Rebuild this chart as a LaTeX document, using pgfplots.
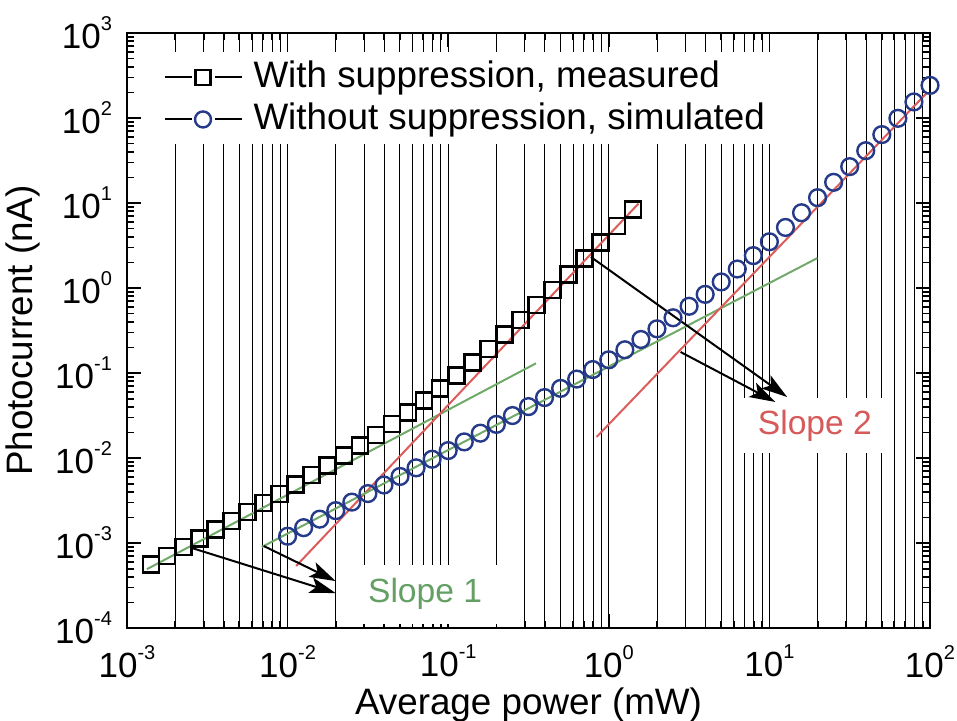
\documentclass[border=0pt]{standalone}
\usepackage{fontspec}
\setmainfont{Liberation Sans}
\usepackage{pgfplots}
\pgfplotsset{compat=1.18}
\usetikzlibrary{arrows.meta}
\definecolor{fitred}{RGB}{220,92,92}
\definecolor{fitgreen}{RGB}{112,170,104}
\definecolor{circblue}{RGB}{38,58,138}
\definecolor{txtgreen}{RGB}{100,160,100}
\definecolor{txtred}{RGB}{214,90,90}
\newcommand{\tl}[1]{10\raisebox{9pt}{\fontsize{10}{12}\selectfont #1}}

\pgfplotstableread{
x y
1.413e-3 5.59e-4
1.778e-3 7.06e-4
2.239e-3 8.93e-4
2.818e-3 1.130e-3
3.548e-3 1.433e-3
4.467e-3 1.820e-3
5.623e-3 2.316e-3
7.079e-3 2.956e-3
8.913e-3 3.786e-3
0.01122 4.867e-3
0.01413 6.289e-3
0.01778 8.167e-3
0.02239 0.01069
0.02818 0.01409
0.03548 0.01875
0.04467 0.02520
0.05623 0.03426
0.07079 0.04716
0.08913 0.06574
0.1122 0.09286
0.1413 0.1329
0.1778 0.1926
0.2239 0.2828
0.2818 0.4197
0.3548 0.6294
0.4467 0.9523
0.5623 1.452
0.7079 2.231
0.8913 3.446
1.122 5.348
1.413 8.332
}\measured

\pgfplotstableread{
x y
0.01 1.202e-3
0.01259 1.515e-3
0.01585 1.908e-3
0.01995 2.403e-3
0.02512 3.029e-3
0.03162 3.818e-3
0.03981 4.814e-3
0.05012 6.072e-3
0.0631 7.664e-3
0.07943 9.677e-3
0.1 0.01223
0.1259 0.01547
0.1585 0.01960
0.1995 0.02486
0.2512 0.03159
0.3162 0.04025
0.3981 0.05142
0.5012 0.06592
0.631 0.08488
0.7943 0.1098
1 0.143
1.259 0.1876
1.585 0.2480
1.995 0.3309
2.512 0.4465
3.162 0.6095
3.981 0.8422
5.012 1.179
6.31 1.673
7.943 2.404
10 3.5
12.59 5.157
15.85 7.68
19.95 11.55
25.12 17.52
31.62 26.79
39.81 41.23
50.12 63.79
63.1 99.14
79.43 154.6
100 242
}\simulated

\begin{document}
\begin{tikzpicture}
\useasboundingbox (0,0) rectangle (478.5pt,360pt);
\begin{axis}[
  at={(63.5pt,46pt)}, anchor=south west,
  scale only axis, width=401.5pt, height=297.5pt,
  xmode=log, ymode=log,
  xmin=1e-3, xmax=100, ymin=1e-4, ymax=1000,
  xtick={1e-3,1e-2,1e-1,1,10,100},
  xticklabels={\tl{-3},\tl{-2},\tl{-1},\tl{0},\tl{1},\tl{2}},
  ytick={1e-4,1e-3,1e-2,1e-1,1,10,100,1000},
  yticklabels={\tl{-4},\tl{-3},\tl{-2},\tl{-1},\tl{0},\tl{1},\tl{2},\tl{3}},
  minor xtick={2e-3,3e-3,4e-3,5e-3,6e-3,7e-3,8e-3,9e-3,
               0.02,0.03,0.04,0.05,0.06,0.07,0.08,0.09,
               0.2,0.3,0.4,0.5,0.6,0.7,0.8,0.9,
               2,3,4,5,6,7,8,9,20,30,40,50,60,70,80,90},
  minor ytick={2e-4,3e-4,4e-4,5e-4,6e-4,7e-4,8e-4,9e-4,
               2e-3,3e-3,4e-3,5e-3,6e-3,7e-3,8e-3,9e-3,
               0.02,0.03,0.04,0.05,0.06,0.07,0.08,0.09,
               0.2,0.3,0.4,0.5,0.6,0.7,0.8,0.9,
               2,3,4,5,6,7,8,9,20,30,40,50,60,70,80,90,
               200,300,400,500,600,700,800,900},
  xmajorgrids, xminorgrids,
  major grid style={black, line width=0.45pt},
  minor grid style={black, line width=0.45pt},
  tick align=inside,
  major tick length=7pt, minor tick length=3.5pt,
  every tick/.style={black, line width=0.9pt},
  axis line style={line width=1pt},
  tick label style={font=\fontsize{17.5}{20}\selectfont},
  xticklabel style={yshift=-5pt},
  yticklabel style={xshift=-4pt},
  xlabel={Average power (mW)}, ylabel={Photocurrent (nA)},
  label style={font=\fontsize{18.4}{22}\selectfont},
  xlabel style={at={(axis description cs:0.5,-0.129)}, anchor=center},
  ylabel style={at={(axis description cs:-0.1295,0.5)}, anchor=center},
  legend style={at={(axis description cs:0.04,0.968)}, anchor=north west,
    fill=white, draw=none, inner sep=2pt, row sep=0pt,
    nodes={inner sep=0.5pt, text height=15pt, text depth=5pt},
    font=\fontsize{18.4}{22}\selectfont,
    /tikz/every odd column/.append style={column sep=5pt}},
  legend cell align=left,
]
\addplot[only marks, mark=square, mark size=4pt,
  mark options={line width=1.3pt, draw=black, fill=none},
  legend image code/.code={
    \draw[black,line width=1pt] (0pt,0pt)--(13.5pt,0pt) (25pt,0pt)--(38.5pt,0pt);
    \draw[black,line width=1.2pt] (15.5pt,-3.75pt) rectangle (23pt,3.75pt);
  }] table[x=x,y=y] {\measured};
\addlegendentry{With suppression, measured}
\addplot[only marks, mark=o, mark size=4.2pt,
  mark options={line width=1.2pt, draw=circblue, fill=none},
  legend image code/.code={
    \draw[black,line width=1pt] (0pt,0pt)--(13.5pt,0pt) (25pt,0pt)--(38.5pt,0pt);
    \draw[circblue,line width=1.2pt] (19.25pt,0pt) circle (4pt);
  }] table[x=x,y=y] {\simulated};
\addlegendentry{Without suppression, simulated}

% fit lines
\addplot[fitgreen, line width=1pt, forget plot] coordinates {(1.33e-3,4.92e-4) (0.352,0.13)};
\addplot[fitred, line width=1pt, forget plot] coordinates {(0.0113,5.36e-4) (1.53,9.83)};
\addplot[fitgreen, line width=1pt, forget plot] coordinates {(6.9e-3,8.97e-4) (19.9,2.25)};
\addplot[fitred, line width=1pt, forget plot] coordinates {(0.84,0.0177) (95.5,197)};

% labels
\node[fill=white, text=txtgreen, inner xsep=10pt, inner ysep=7pt, anchor=base,
  font=\fontsize{16.8}{20}\selectfont] at (axis cs:0.0718,1.97e-4) {Slope 1};
\node[fill=white, text=txtred, inner xsep=7pt, inner ysep=6pt, anchor=base,
  font=\fontsize{16.8}{20}\selectfont] at (axis cs:19.2,0.0191) {Slope 2};

% arrows
\tikzset{arr/.style={-{Stealth[length=13pt,width=8pt,inset=3pt,fill=black]}, line width=1pt, black}}
\draw[arr] (axis cs:2.54e-3,8.73e-4) -- (axis cs:0.0199,2.58e-4);
\draw[arr] (axis cs:7.1e-3,9.22e-4) -- (axis cs:0.0199,3.57e-4);
\draw[arr] (axis cs:0.773,2.32) -- (axis cs:12.9,0.0522);
\draw[arr] (axis cs:2.80,0.1766) -- (axis cs:10.9,0.0456);
\end{axis}
\end{tikzpicture}
\end{document}
